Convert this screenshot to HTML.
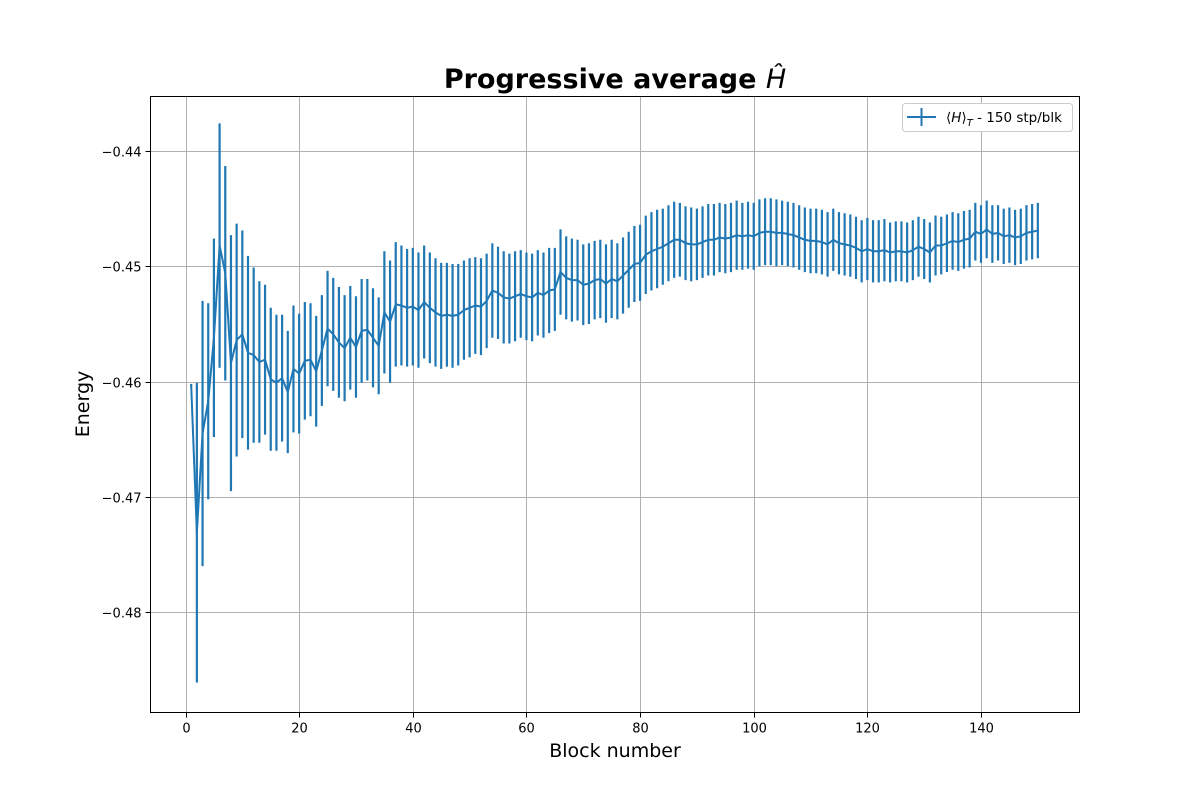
<!DOCTYPE html>
<html><head><meta charset="utf-8"><style>
body{margin:0;background:#fff}
svg text{font-family:"DejaVu Sans","Liberation Sans",sans-serif}
</style></head><body>
<svg id="chart" width="1200" height="800" viewBox="0 0 1200 800">
<rect width="1200" height="800" fill="#fff"/>
<text x="615" y="88" text-anchor="middle" font-size="27" font-weight="bold">Progressive average <tspan font-style="italic" font-weight="normal">Ĥ</tspan></text>
<g id="grid"></g>
<g id="series"></g>
<rect x="150.5" y="96.5" width="929" height="616" fill="none" stroke="#000" stroke-width="1"/>
<g id="ticks"></g>
<text x="615" y="757" text-anchor="middle" font-size="19">Block number</text>
<text transform="translate(89,404) rotate(-90)" text-anchor="middle" font-size="19">Energy</text>
<g>
<rect x="902.5" y="103.5" width="170" height="28" rx="3" fill="#fff" stroke="#ccc"/>
<line x1="907" y1="117" x2="936" y2="117" stroke="#1f77b4" stroke-width="2"/>
<line x1="921.5" y1="108" x2="921.5" y2="126" stroke="#1f77b4" stroke-width="2"/>
<text x="946" y="122" font-size="13.5">⟨<tspan font-style="italic">H</tspan>⟩<tspan font-style="italic" font-size="10" dy="4">T</tspan><tspan dy="-4"> - 150 stp/blk</tspan></text>
</g>
</svg>
<script>
const xTicks=[0,20,40,60,80,100,120,140];
const yTicks=[-0.44,-0.45,-0.46,-0.47,-0.48];
const yTickLabels=["−0.44","−0.45","−0.46","−0.47","−0.48"];
const means=[-0.4603,-0.4731,-0.4645,-0.4617,-0.4562,-0.4482,-0.4506,-0.4584,-0.4564,-0.4559,
-0.4575,-0.4577,-0.4583,-0.4581,-0.4598,-0.4601,-0.4597,-0.4609,-0.4589,-0.4593,
-0.4582,-0.4581,-0.4591,-0.4573,-0.4554,-0.4559,-0.4566,-0.4571,-0.4562,-0.4570,
-0.4556,-0.4555,-0.4562,-0.4569,-0.4540,-0.4548,-0.4533,-0.4534,-0.4536,-0.4535,
-0.4538,-0.4531,-0.4536,-0.4540,-0.4543,-0.4542,-0.4543,-0.4542,-0.4538,-0.4536,
-0.4534,-0.4535,-0.4530,-0.4521,-0.4523,-0.4527,-0.4528,-0.4526,-0.4524,-0.4526,
-0.4527,-0.4523,-0.4525,-0.4521,-0.4520,-0.4505,-0.4510,-0.4512,-0.4512,-0.4516,
-0.4515,-0.4512,-0.4511,-0.4515,-0.4511,-0.4513,-0.4508,-0.4503,-0.4498,-0.4497,
-0.4490,-0.4487,-0.4485,-0.4483,-0.4480,-0.4477,-0.4477,-0.4480,-0.4481,-0.4481,
-0.4479,-0.4477,-0.4477,-0.4475,-0.4476,-0.4475,-0.4473,-0.4474,-0.4473,-0.4474,
-0.4471,-0.4470,-0.4470,-0.4471,-0.4471,-0.4472,-0.4473,-0.4475,-0.4477,-0.4478,
-0.4478,-0.4479,-0.4481,-0.4477,-0.4480,-0.4481,-0.4482,-0.4484,-0.4487,-0.4485,
-0.4487,-0.4487,-0.4486,-0.4488,-0.4487,-0.4487,-0.4488,-0.4486,-0.4483,-0.4485,
-0.4488,-0.4482,-0.4482,-0.4480,-0.4478,-0.4479,-0.4477,-0.4476,-0.4470,-0.4472,
-0.4468,-0.4472,-0.4471,-0.4474,-0.4473,-0.4475,-0.4474,-0.4471,-0.4470,-0.4469];
const errors=[0.0001,0.0130,0.0115,0.0085,0.0086,0.0106,0.0093,0.0111,0.0101,0.0090,
0.0084,0.0076,0.0070,0.0065,0.0062,0.0059,0.0055,0.0053,0.0055,0.0052,
0.0051,0.0049,0.0048,0.0048,0.0050,0.0049,0.0048,0.0046,0.0045,0.0044,
0.0045,0.0044,0.0043,0.0042,0.0053,0.0053,0.0054,0.0052,0.0051,0.0051,
0.0050,0.0049,0.0048,0.0047,0.0046,0.0045,0.0045,0.0044,0.0043,0.0043,
0.0042,0.0042,0.0041,0.0041,0.0040,0.0040,0.0039,0.0039,0.0038,0.0038,
0.0038,0.0037,0.0037,0.0037,0.0036,0.0037,0.0036,0.0036,0.0035,0.0035,
0.0035,0.0034,0.0034,0.0034,0.0034,0.0033,0.0033,0.0033,0.0033,0.0033,
0.0034,0.0034,0.0034,0.0033,0.0033,0.0033,0.0032,0.0032,0.0032,0.0031,
0.0031,0.0031,0.0031,0.0030,0.0030,0.0030,0.0030,0.0029,0.0029,0.0029,
0.0029,0.0029,0.0029,0.0029,0.0028,0.0028,0.0028,0.0028,0.0028,0.0028,
0.0028,0.0028,0.0028,0.0027,0.0027,0.0027,0.0027,0.0027,0.0027,0.0027,
0.0027,0.0027,0.0027,0.0026,0.0026,0.0026,0.0026,0.0026,0.0026,0.0026,
0.0026,0.0026,0.0025,0.0025,0.0025,0.0025,0.0025,0.0025,0.0025,0.0025,
0.0025,0.0025,0.0024,0.0024,0.0024,0.0024,0.0024,0.0024,0.0024,0.0024];
const NS="http://www.w3.org/2000/svg";
const X0=150.5,X1=1079.5,Y0=96.5,Y1=712.5;
function xs(v){return 185.5+(v-0)*(981-185.5)/140;}
function ys(v){return 151+(-0.44-v)*11530;}
function mk(tag,attrs,parent){const e=document.createElementNS(NS,tag);for(const k in attrs)e.setAttribute(k,attrs[k]);parent.appendChild(e);return e;}
const grid=document.getElementById('grid'),ticks=document.getElementById('ticks'),series=document.getElementById('series');
xTicks.forEach(t=>{const x=Math.round(xs(t))+0.5;
 const g=mk('line',{x1:x,x2:x,y1:Y0,y2:Y1,stroke:'#b0b0b0','stroke-width':1},grid);
 
 
 mk('line',{x1:x,x2:x,y1:Y1,y2:Y1+5,stroke:'#000'},ticks);
 const tx=mk('text',{x:x,y:Y1+20,'text-anchor':'middle','font-size':13},ticks);tx.textContent=t;
 
 });
yTicks.forEach((t,i)=>{const y=Math.round(ys(t))+0.5;
 const g=mk('line',{x1:X0,x2:X1,y1:y,y2:y,stroke:'#b0b0b0','stroke-width':1},grid);
 
 
 mk('line',{x1:X0-5,x2:X0,y1:y,y2:y,stroke:'#000'},ticks);
 const tx=mk('text',{x:X0-9,y:y+5,'text-anchor':'end','font-size':13},ticks);tx.textContent=yTickLabels[i];
 
 });
means.forEach((m,i)=>{const x=xs(i+1);
 const b=mk('line',{x1:x,x2:x,y1:ys(m+errors[i]),y2:ys(m-errors[i]),stroke:'#1f77b4','stroke-width':2.2},series);
 
 });
const pl=mk('polyline',{points:means.map((m,i)=>xs(i+1)+','+ys(m)).join(' '),fill:'none',stroke:'#1f77b4','stroke-width':2,'stroke-linejoin':'round'},series);


</script>
</body></html>
